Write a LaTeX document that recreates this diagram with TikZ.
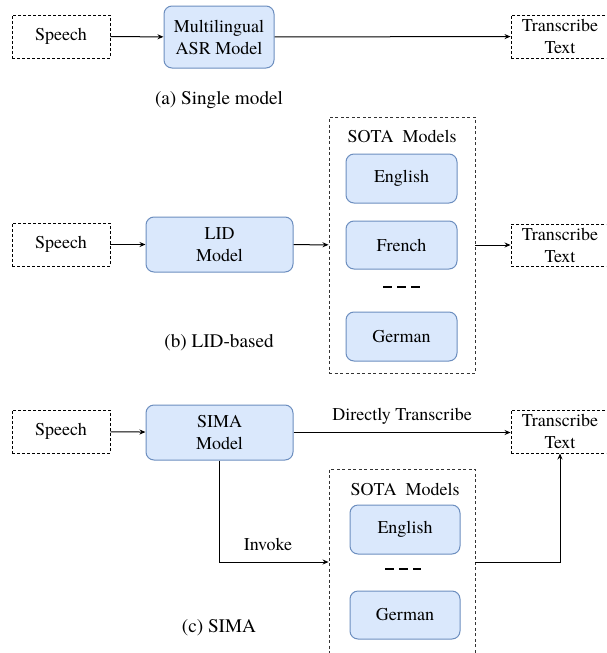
\documentclass[tikz,border=0pt]{standalone}
\usepackage{fontspec}
\setmainfont{texgyretermes}[Extension=.otf, UprightFont=*-regular, BoldFont=*-bold, ItalicFont=*-italic, BoldItalicFont=*-bolditalic]
\usetikzlibrary{arrows.meta}
\definecolor{boxfill}{HTML}{DAE8FC}
\definecolor{boxline}{HTML}{6C8EBF}
\begin{document}
\begin{tikzpicture}[x=1pt,y=-1pt, font=\fontsize{18}{22}\selectfont,
  io/.style={draw, dash pattern=on 3pt off 2pt, line width=0.9pt, minimum width=98pt, minimum height=43pt, inner sep=0pt, align=center},
  model/.style={draw=boxline, fill=boxfill, rounded corners=8pt, line width=1pt, inner sep=0pt, align=center},
  group/.style={draw=black!80, dash pattern=on 3pt off 2.5pt, line width=0.9pt, inner sep=0pt, minimum width=146pt},
  conn/.style={line width=1pt, -{Stealth[length=6pt,width=5pt]}},
  sepdash/.style={line width=2.6pt, dash pattern=on 9pt off 5pt},
  txt/.style={inner sep=0pt, align=center},
  captext/.style={inner sep=0pt, font=\fontsize{19.2}{23}\selectfont}]
\useasboundingbox (0,0) rectangle (606,653);
\clip (0,0) rectangle (606,653);

% ---------- (a) ----------
\node[io] (sp1) at (61,36.5) {Speech};
\node[model, minimum width=110pt, minimum height=62pt] (m1) at (219,37) {Multilingual\\ASR Model};
\node[io] (tt1) at (560,36.5) {Transcribe\\Text};
\draw[conn] (sp1) -- (m1);
\draw[conn] (m1) -- (tt1);
\node[captext] (capa) at (219,100) {(a) Single model};

% ---------- (b) ----------
\node[io] (sp2) at (61,244.5) {Speech};
\node[model, minimum width=147pt, minimum height=55pt] (lid) at (219.5,244.5) {LID\\Model};
\node[group, minimum height=256pt] (sota2) at (402,245) {};
\node[txt] (sl2) at (402,136) {SOTA\ \ Models};
\node[model, minimum width=111pt, minimum height=49pt] (en2) at (401.5,178.5) {English};
\node[model, minimum width=111pt, minimum height=48pt] (fr2) at (401.5,245) {French};
\node[model, minimum width=111pt, minimum height=49pt] (de2) at (401.5,336.5) {German};
\draw[sepdash] (383,287) -- (420,287);
\node[io, minimum height=42pt] (tt2) at (560,245) {Transcribe\\Text};
\draw[conn] (sp2) -- (lid);
\draw[conn] (lid) -- (sota2);
\draw[conn] (sota2) -- (tt2);
\node[captext] (capb) at (219,343) {(b) LID-based};

% ---------- (c) ----------
\node[io] (sp3) at (61,431.5) {Speech};
\node[model, minimum width=147pt, minimum height=55pt] (sima) at (219.5,432.5) {SIMA\\Model};
\node[io] (tt3) at (560,431.5) {Transcribe\\Text};
\node[group, minimum height=186pt] (sota3) at (402,562) {};
\node[txt] (sl3) at (405,489) {SOTA\ \ Models};
\node[model, minimum width=110pt, minimum height=49pt] (en3) at (405,529.5) {English};
\node[model, minimum width=110pt, minimum height=48pt] (de3) at (405,615) {German};
\draw[sepdash] (385,569) -- (421,569);
\draw[conn] (sp3) -- (sima);
\draw[conn] (sima.east) -- node[txt, above=8pt] (dt) {Directly Transcribe} (sima.east -| tt3.west);
\draw[conn] (sima.south) |- (sota3.west);
\node[txt] (inv) at (268,544) {Invoke};
\draw[conn] (sota3.east) -| (tt3.south);
\node[captext] (capc) at (219,628) {(c) SIMA};
\end{tikzpicture}
\end{document}
